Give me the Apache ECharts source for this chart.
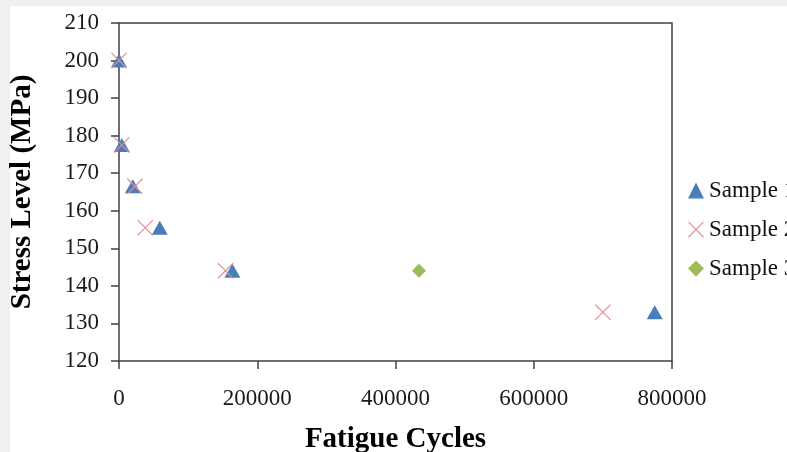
<!DOCTYPE html>
<html>
<head>
<meta charset="utf-8">
<script src="https://cdn.jsdelivr.net/npm/echarts@6/dist/echarts.min.js"></script>
<style>
html,body{margin:0;padding:0;background:#eef0f2;overflow:hidden;width:787px;height:452px;}
#c{width:787px;height:452px;}
</style>
</head>
<body>
<div id="c"></div>
<script>
const seriesNames = ['Sample 1', 'Sample 2', 'Sample 3'];
const sample1 = [[0, 200], [4000, 177.5], [20000, 166.5], [59000, 155.5], [164000, 144], [775000, 133]];
const sample2 = [[0, 200], [4000, 177.5], [23000, 166.5], [38000, 155.5], [154000, 144], [700000, 133]];
const sample3 = [[434000, 144]];
const xTicks = [0, 200000, 400000, 600000, 800000];
const yTicks = [120, 130, 140, 150, 160, 170, 180, 190, 200, 210];

const crossPath = 'path://M0,1L1,0L10,9L19,0L20,1L11,10L20,19L19,20L10,11L1,20L0,19L9,10Z';
const axisColor = '#404040';
const font = '"Liberation Serif", "Times New Roman", serif';

const chart = echarts.init(document.getElementById('c'));
const bgRect = {
  type: 'rect', left: 10, top: 6, z: -10,
  shape: { width: 777, height: 446 },
  style: { fill: '#ffffff' }
};
chart.setOption({
  backgroundColor: '#eef0f2',
  animation: false,
  graphic: [bgRect],
  grid: { left: 119, right: 115, top: 23, bottom: 91, show: false, containLabel: false, outerBoundsMode: 'none' },
  xAxis: {
    type: 'value', min: xTicks[0], max: xTicks[xTicks.length - 1], interval: 200000,
    name: 'Fatigue Cycles', nameLocation: 'middle', nameGap: 64,
    nameTextStyle: { fontFamily: font, fontSize: 29, fontWeight: 'bold', color: '#000' },
    axisLine: { show: true, onZero: false, lineStyle: { color: axisColor, width: 1.5 } },
    axisTick: { show: true, length: 8, inside: false, lineStyle: { color: axisColor, width: 1.5 } },
    axisLabel: { margin: 26, fontFamily: font, fontSize: 23, color: '#1a1a1a',
      formatter: v => String(v) },
    splitLine: { show: false }
  },
  yAxis: {
    type: 'value', min: yTicks[0], max: yTicks[yTicks.length - 1], interval: 10,
    name: 'Stress Level (MPa)', nameLocation: 'middle', nameGap: 82,
    nameTextStyle: { fontFamily: font, fontSize: 29, fontWeight: 'bold', color: '#000' },
    axisLine: { show: true, onZero: false, lineStyle: { color: axisColor, width: 1.5 } },
    axisTick: { show: true, length: 8, lineStyle: { color: axisColor, width: 1.5 } },
    axisLabel: { margin: 20, fontFamily: font, fontSize: 23, color: '#1a1a1a',
      formatter: v => String(v) },
    splitLine: { show: false }
  },
  legend: {
    orient: 'vertical', left: 683, top: 174, itemGap: 16, itemWidth: 16, itemHeight: 16,
    textStyle: { fontFamily: font, fontSize: 23, color: '#111' },
    data: seriesNames
  },
  series: [
    {
      name: seriesNames[0], type: 'scatter', data: sample1,
      symbol: 'triangle', symbolSize: [16, 14],
      itemStyle: { color: '#4a7ebb', opacity: 1 }, z: 3
    },
    {
      name: seriesNames[1], type: 'scatter', data: sample2,
      symbol: crossPath, symbolSize: 16,
      itemStyle: { color: '#e08c8f', opacity: 1 }, z: 4
    },
    {
      name: seriesNames[2], type: 'scatter', data: sample3,
      symbol: 'diamond', symbolSize: [14, 14],
      itemStyle: { color: '#9bbb59', opacity: 1 }, z: 3
    }
  ]
});
const grid = chart.getModel().getComponent('grid').coordinateSystem.getRect();
chart.setOption({
  graphic: [bgRect, {
    type: 'polyline', z: 2, silent: true,
    shape: { points: [[grid.x, grid.y], [grid.x + grid.width, grid.y], [grid.x + grid.width, grid.y + grid.height]] },
    style: { stroke: axisColor, lineWidth: 1.5, fill: null }
  }]
});
</script>
</body>
</html>
